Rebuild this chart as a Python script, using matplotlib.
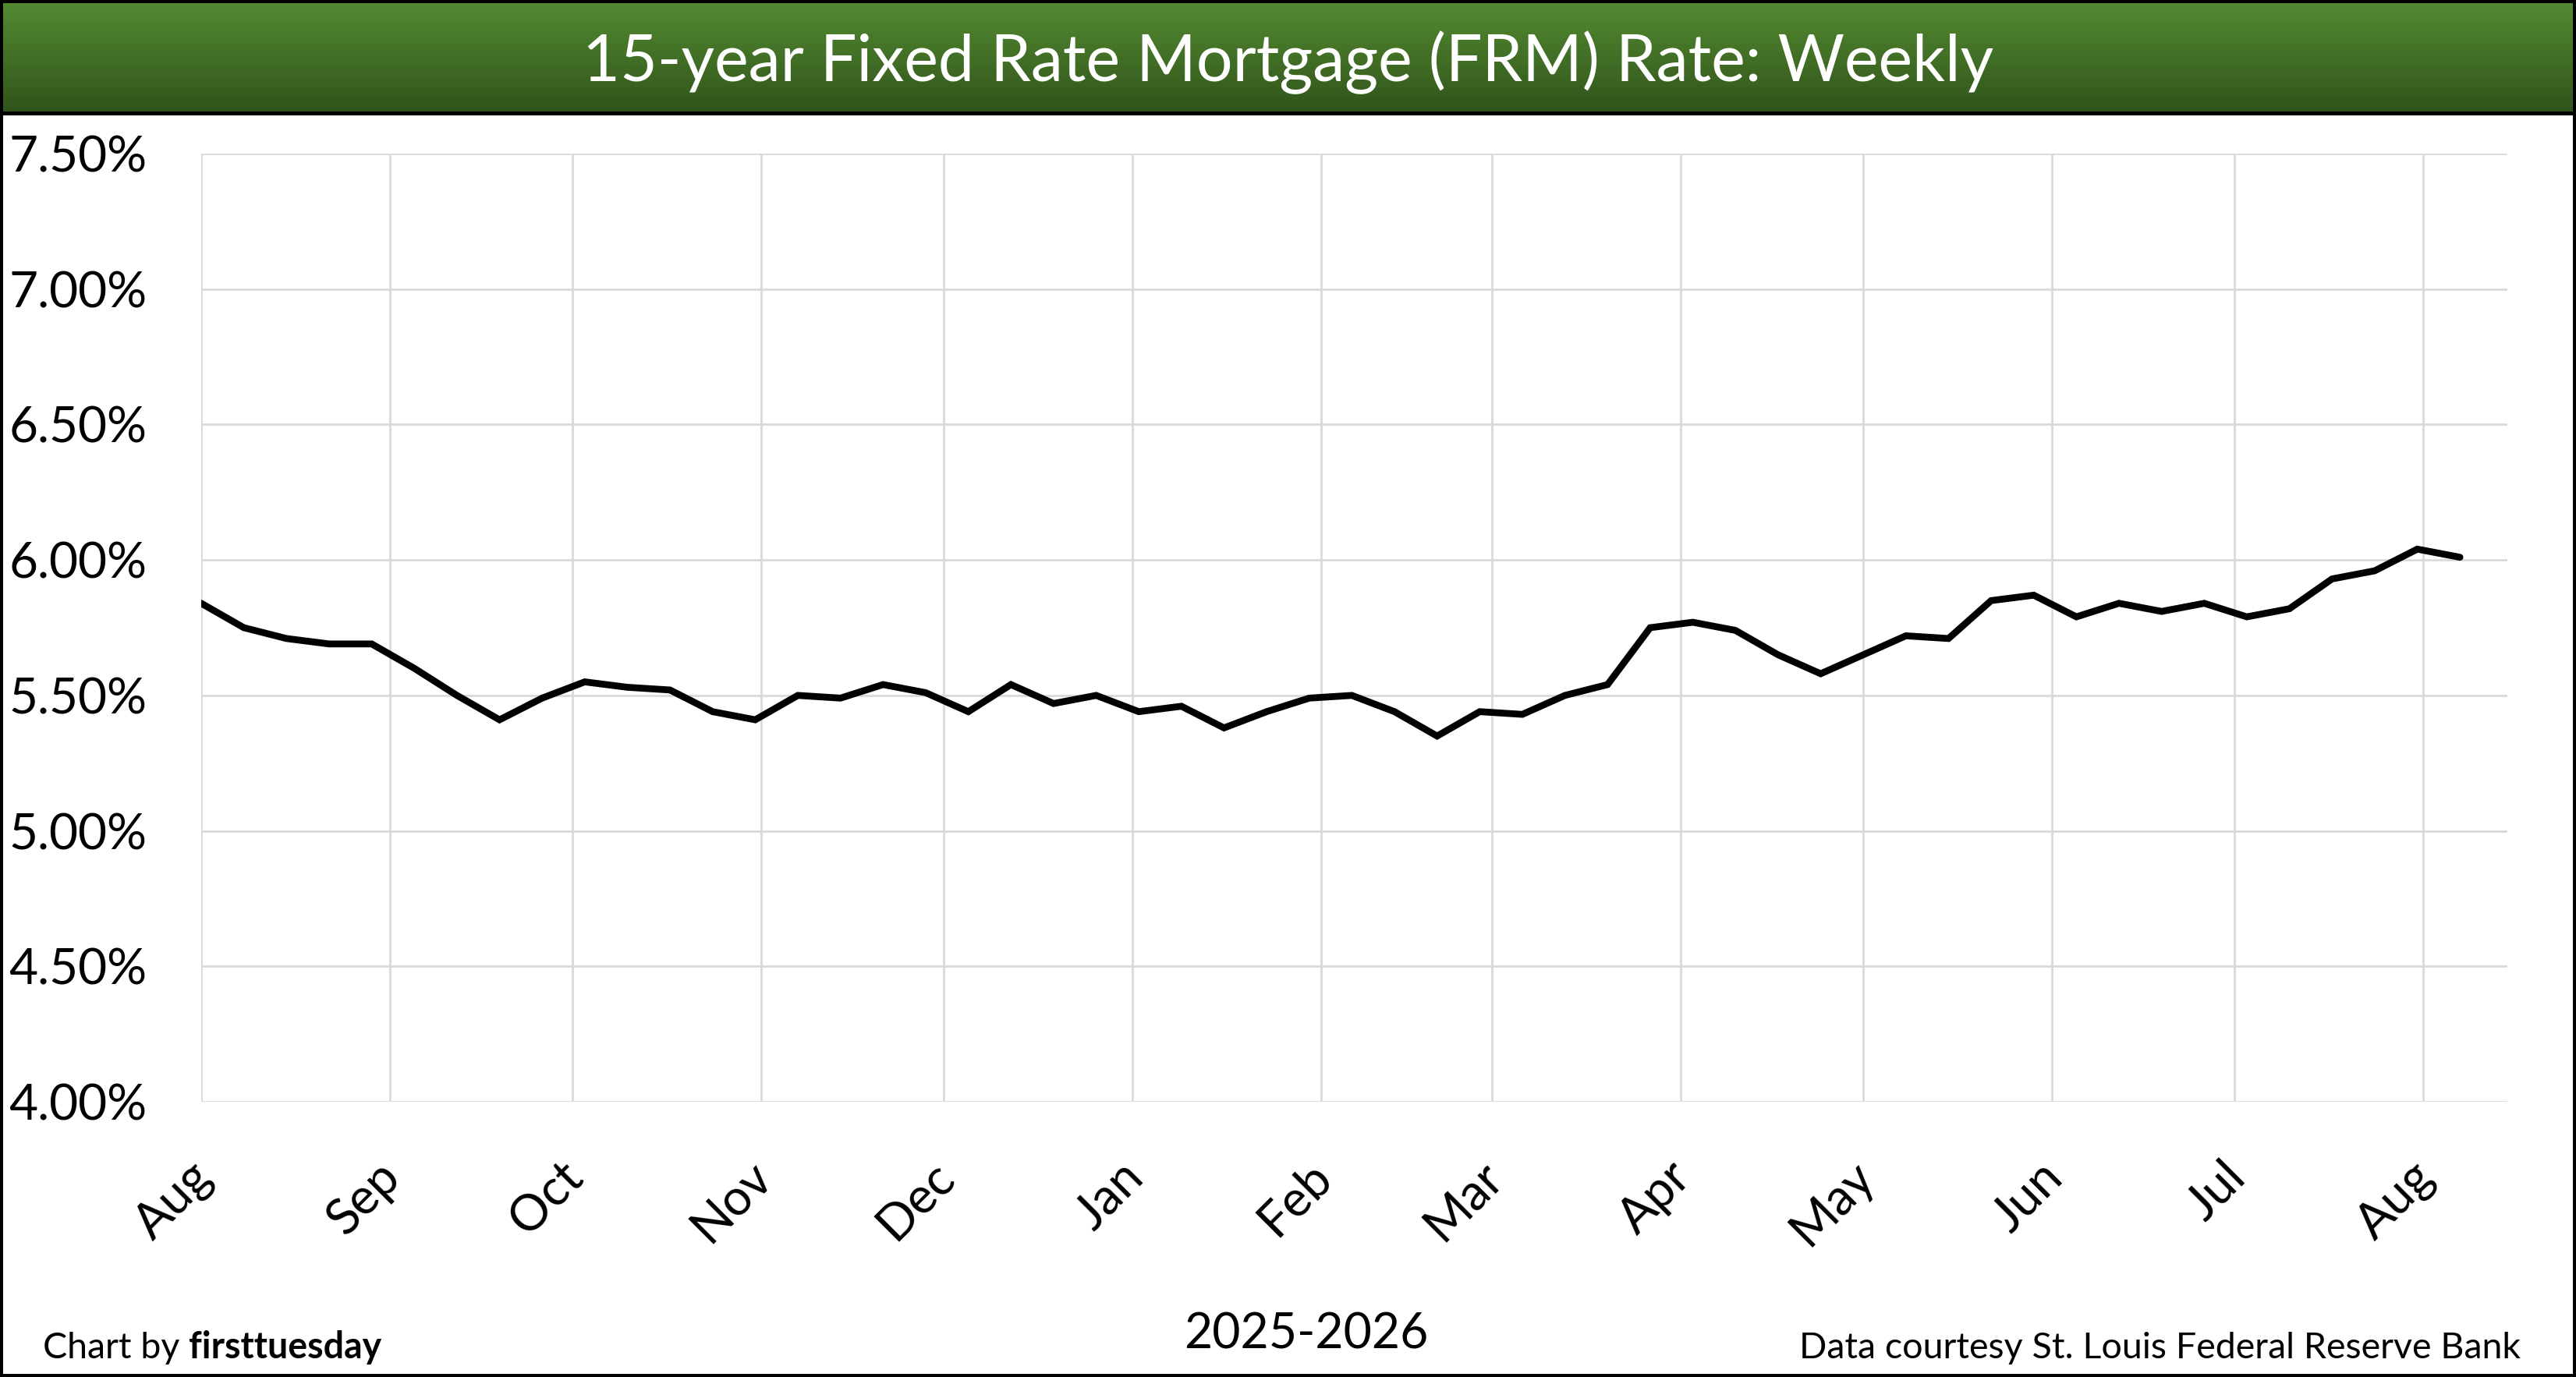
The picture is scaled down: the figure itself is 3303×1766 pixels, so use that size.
import matplotlib
matplotlib.use("Agg")
import matplotlib.pyplot as plt
import matplotlib.dates as mdates
import numpy as np
import pandas as pd
from matplotlib.colors import LinearSegmentedColormap
from matplotlib.patches import Rectangle
from matplotlib.ticker import FixedLocator, FuncFormatter

plt.rcParams["font.family"] = ["Lato", "DejaVu Sans"]

# weekly survey dates (Thursdays)
week_dates = [
    "2025-08-07", "2025-08-14", "2025-08-21", "2025-08-28",
    "2025-09-04", "2025-09-11", "2025-09-18", "2025-09-25",
    "2025-10-02", "2025-10-09", "2025-10-16", "2025-10-23", "2025-10-30",
    "2025-11-06", "2025-11-13", "2025-11-20", "2025-11-27",
    "2025-12-04", "2025-12-11", "2025-12-18", "2025-12-25",
    "2026-01-01", "2026-01-08", "2026-01-15", "2026-01-22", "2026-01-29",
    "2026-02-05", "2026-02-12", "2026-02-19", "2026-02-26",
    "2026-03-05", "2026-03-12", "2026-03-19", "2026-03-26",
    "2026-04-02", "2026-04-09", "2026-04-16", "2026-04-23", "2026-04-30",
    "2026-05-07", "2026-05-14", "2026-05-21", "2026-05-28",
    "2026-06-04", "2026-06-11", "2026-06-18", "2026-06-25",
    "2026-07-02", "2026-07-09", "2026-07-16", "2026-07-23", "2026-07-30",
    "2026-08-06", "2026-08-13",
]

# 15-year FRM rate, percent
frm15 = [
    5.84, 5.75, 5.71, 5.69,
    5.69, 5.60, 5.50, 5.41,
    5.49, 5.55, 5.53, 5.52, 5.44,
    5.41, 5.50, 5.49, 5.54,
    5.51, 5.44, 5.54, 5.47,
    5.50, 5.44, 5.46, 5.38, 5.44,
    5.49, 5.50, 5.44, 5.35,
    5.44, 5.43, 5.50, 5.54,
    5.75, 5.77, 5.74, 5.65, 5.58,
    5.65, 5.72, 5.71, 5.85,
    5.87, 5.79, 5.84, 5.81,
    5.84, 5.79, 5.82, 5.93, 5.96,
    6.04, 6.01,
]

month_ticks = [
    "2025-08-07", "2025-09-07", "2025-10-07", "2025-11-07", "2025-12-07",
    "2026-01-07", "2026-02-07", "2026-03-07", "2026-04-07", "2026-05-07",
    "2026-06-07", "2026-07-07", "2026-08-07",
]
y_ticks = [4.0, 4.5, 5.0, 5.5, 6.0, 6.5, 7.0, 7.5]

title = "15-year Fixed Rate Mortgage (FRM) Rate: Weekly"

W, H = 3303, 1766


def fx(px):
    return px / W


def fy(py):
    return 1 - py / H


fig = plt.figure(figsize=(W / 100, H / 100), dpi=100, facecolor="black")

# white body inside the black frame
fig.patches.append(Rectangle((fx(4), fy(1762)), fx(3299) - fx(4), (1762 - 148) / H,
                             transform=fig.transFigure, facecolor="white",
                             edgecolor="none", zorder=-5))

# green title bar with vertical gradient
tax = fig.add_axes([fx(4), fy(143), fx(3299) - fx(4), (143 - 4) / H])
green = LinearSegmentedColormap.from_list("green", ["#538A31", "#31541B"])
tax.imshow(np.linspace(0, 1, 256).reshape(-1, 1), cmap=green, aspect="auto",
           extent=[0, 1, 0, 1], origin="upper")
tax.set_axis_off()
fig.text(0.5, fy(104), title, color="white", fontsize=59.5, ha="center", va="baseline")

# main chart
ax = fig.add_axes([fx(258), fy(1413), fx(3215) - fx(258), (1413 - 197) / H])
dates = pd.to_datetime(week_dates)
ax.plot(dates, frm15, color="black", lw=6.3, solid_joinstyle="miter",
        solid_capstyle="round", zorder=3)

ax.set_xlim(pd.Timestamp("2025-08-07"), pd.Timestamp("2026-08-20 19:00"))
ax.set_ylim(4.0, 7.5)
ax.yaxis.set_major_locator(FixedLocator(y_ticks))
ax.yaxis.set_major_formatter(FuncFormatter(lambda v, p: f"{v:.2f}%"))
ax.xaxis.set_major_locator(FixedLocator(mdates.date2num(pd.to_datetime(month_ticks))))
ax.xaxis.set_major_formatter(mdates.DateFormatter("%b"))

ax.grid(True, color="#D9D9D9", lw=2.0)
ax.set_axisbelow(True)
for s in ax.spines.values():
    s.set_visible(False)

ax.tick_params(axis="y", length=0, labelsize=46, pad=50)
ax.tick_params(axis="x", length=0, labelsize=46, pad=60)
for lbl in ax.get_xticklabels():
    lbl.set_rotation(45)
    lbl.set_ha("right")
    lbl.set_va("center_baseline")
    lbl.set_rotation_mode("anchor")

# footer texts
fig.text(fx(1675), fy(1729), "2025-2026", fontsize=45, ha="center", va="baseline")
t1 = fig.text(fx(55), fy(1742), "Chart by ", fontsize=33.5, ha="left", va="baseline")
ax.annotate("firsttuesday", xy=(1, 0), xycoords=t1, fontsize=33.5, fontweight="bold",
            ha="left", va="bottom", annotation_clip=False)
fig.text(fx(3232), fy(1742), "Data courtesy St. Louis Federal Reserve Bank",
         fontsize=33.5, ha="right", va="baseline")

fig.savefig("out.png", dpi=100, facecolor="black")
